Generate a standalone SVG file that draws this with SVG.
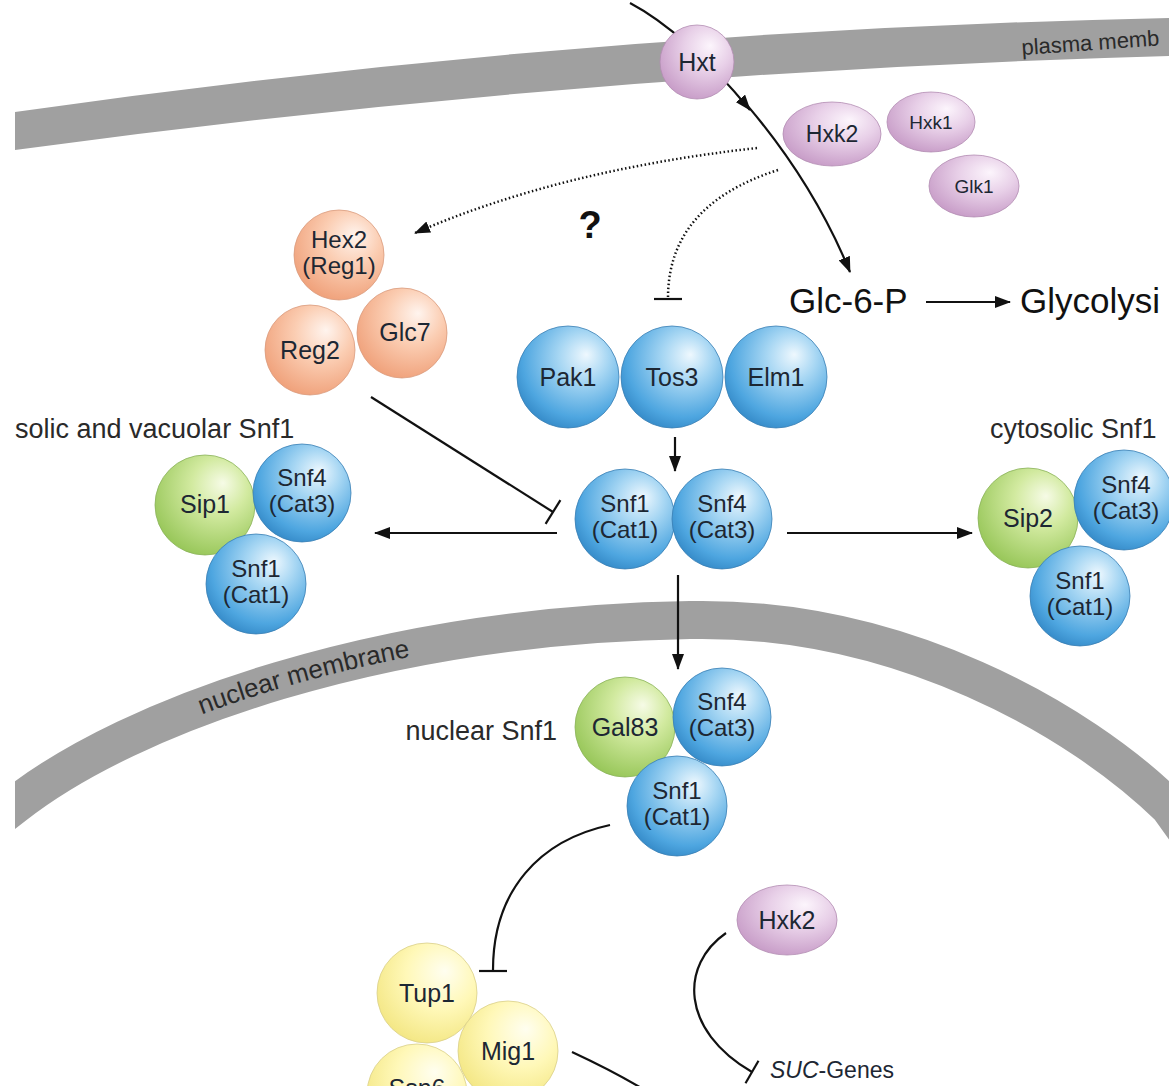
<svg xmlns="http://www.w3.org/2000/svg" width="1169" height="1086" viewBox="0 0 1169 1086">
<defs>
<radialGradient id="gBlue" cx="0.6" cy="0.35" r="0.7" fx="0.68" fy="0.28">
<stop offset="0" stop-color="#eef8fe"/><stop offset="0.35" stop-color="#a6d6f3"/><stop offset="0.8" stop-color="#4ea6e0"/><stop offset="1" stop-color="#3388c6"/>
</radialGradient>
<radialGradient id="gGreen" cx="0.6" cy="0.35" r="0.7" fx="0.68" fy="0.28">
<stop offset="0" stop-color="#f6fbe6"/><stop offset="0.4" stop-color="#d2eaa0"/><stop offset="1" stop-color="#95c556"/>
</radialGradient>
<radialGradient id="gOrange" cx="0.6" cy="0.35" r="0.7" fx="0.68" fy="0.28">
<stop offset="0" stop-color="#fff4ee"/><stop offset="0.45" stop-color="#fbcdb2"/><stop offset="1" stop-color="#ef9f78"/>
</radialGradient>
<radialGradient id="gPurple" cx="0.6" cy="0.35" r="0.7" fx="0.68" fy="0.28">
<stop offset="0" stop-color="#fcf5fc"/><stop offset="0.45" stop-color="#e8d0e8"/><stop offset="1" stop-color="#c69ac6"/>
</radialGradient>
<radialGradient id="gYellow" cx="0.6" cy="0.35" r="0.7" fx="0.68" fy="0.28">
<stop offset="0" stop-color="#fffef0"/><stop offset="0.5" stop-color="#fff8b8"/><stop offset="1" stop-color="#f3e682"/>
</radialGradient>
<marker id="arr" viewBox="0 0 16 12" refX="15" refY="6" markerWidth="16" markerHeight="12" markerUnits="userSpaceOnUse" orient="auto">
<path d="M0,0 L16,6 L0,12 Z" fill="#111"/>
</marker>
<clipPath id="clipL"><rect x="15" y="0" width="1154" height="1086"/></clipPath>
<path id="nucText" d="M15,813 C130,723 380,633 690,628"/>
</defs>
<style>
.mem{fill:none;stroke:#a0a0a0}
.blue{fill:url(#gBlue);stroke:#3a7fb4;stroke-width:0.8}
.green{fill:url(#gGreen);stroke:#8ab35a;stroke-width:0.8}
.orange{fill:url(#gOrange);stroke:#d99a7c;stroke-width:0.8}
.purple{fill:url(#gPurple);stroke:#b38db3;stroke-width:0.8}
.yellow{fill:url(#gYellow);stroke:#d9cf8a;stroke-width:0.8}
.lbl{font-family:"Liberation Sans",Arial,sans-serif;font-size:25px;fill:#1d2733;text-anchor:middle}
.two{font-size:24px}
.sm{font-size:19px}
.grp{font-family:"Liberation Sans",Arial,sans-serif;font-size:27px;fill:#2a2a2a}
.big{font-family:"Liberation Sans",Arial,sans-serif;font-size:35px;fill:#111}
.ln{fill:none;stroke:#111;stroke-width:2.2}
.dot{fill:none;stroke:#111;stroke-width:2.5;stroke-dasharray:1.5 2.5}
</style>
<rect width="1169" height="1086" fill="#fff"/>
<g id="membranes" clip-path="url(#clipL)">
<path id="plasma" d="M15,112 Q590,30 1169,18 L1169,56 Q590,72 15,150 Z" fill="#a0a0a0"/>
<path id="nuclear" class="mem" stroke-width="38" d="M-20,832 L15,805 C130,715 380,625 690,620 C900,616 1080,720 1169,807 L1200,850"/>
</g>
<text class="grp" style="font-size:22px" transform="translate(1022,55) rotate(-4)">plasma memb</text>
<text class="grp" style="font-size:26px"><textPath href="#nucText" startOffset="212">nuclear membrane</textPath></text>

<g id="connectors">
<path class="ln" d="M630,3 C665,21.5 707.5,58.25 750,110" marker-end="url(#arr)"/>
<path class="ln" d="M747.5,105.6 C787.5,153 825,211 850,272" marker-end="url(#arr)"/>
<path class="dot" d="M757,148 Q560,170 415,233" marker-end="url(#arr)"/>
<path class="dot" d="M778,170 C700,195 668,240 668,298"/>
<line class="ln" x1="654" y1="299" x2="682" y2="299"/>
<line class="ln" x1="926" y1="302" x2="1010" y2="302" marker-end="url(#arr)"/>
<line class="ln" x1="371" y1="397" x2="553" y2="512"/>
<line class="ln" x1="545.6" y1="523.9" x2="560.4" y2="500.1"/>
<line class="ln" x1="675" y1="437" x2="675" y2="471" marker-end="url(#arr)"/>
<line class="ln" x1="557" y1="533" x2="375" y2="533" marker-end="url(#arr)"/>
<line class="ln" x1="787" y1="533" x2="972" y2="533" marker-end="url(#arr)"/>
<line class="ln" x1="678" y1="575" x2="678" y2="669" marker-end="url(#arr)"/>
<path class="ln" d="M610,825 C540,840 493,890 493,970"/>
<line class="ln" x1="479" y1="971" x2="507" y2="971"/>
<path class="ln" d="M726,933 C680,965 680,1030 752,1072"/>
<line class="ln" x1="745.5" y1="1083.2" x2="758.5" y2="1060.8"/>
<path class="ln" d="M572,1052 C600,1065 625,1078 648,1092"/>
</g>

<g id="Hxt"><ellipse class="purple" cx="697" cy="62" rx="37" ry="37"/><text class="lbl" x="697" y="71">Hxt</text></g>
<g id="Hxk2top"><ellipse class="purple" cx="832" cy="134" rx="49" ry="32"/><text class="lbl" style="font-size:23px" x="832" y="142">Hxk2</text></g>
<g id="Hxk1"><ellipse class="purple" cx="931" cy="122" rx="44" ry="30"/><text class="lbl sm" x="931" y="129">Hxk1</text></g>
<g id="Glk1"><ellipse class="purple" cx="974" cy="186" rx="45" ry="31"/><text class="lbl sm" x="974" y="193">Glk1</text></g>

<text class="big" x="789" y="313">Glc-6-P</text>
<text class="big" x="1020" y="313">Glycolysi</text>
<text x="590" y="238" style="font-family:'Liberation Sans',Arial,sans-serif;font-size:38px;font-weight:bold;fill:#111" text-anchor="middle">?</text>

<g id="Hex2"><circle class="orange" cx="339" cy="255" r="45"/><text class="lbl two" x="339" y="248">Hex2</text><text class="lbl two" x="339" y="274">(Reg1)</text></g>
<g id="Reg2"><circle class="orange" cx="310" cy="350" r="45"/><text class="lbl" x="310" y="359">Reg2</text></g>
<g id="Glc7"><circle class="orange" cx="402" cy="333" r="45"/><text class="lbl" x="405" y="341">Glc7</text></g>

<g id="Pak1"><circle class="blue" cx="568" cy="377" r="51"/><text class="lbl" x="568" y="386">Pak1</text></g>
<g id="Tos3"><circle class="blue" cx="672" cy="377" r="51"/><text class="lbl" x="672" y="386">Tos3</text></g>
<g id="Elm1"><circle class="blue" cx="776" cy="377" r="51"/><text class="lbl" x="776" y="386">Elm1</text></g>

<g id="Snf1c"><circle class="blue" cx="625" cy="519" r="50"/><text class="lbl two" x="625" y="512">Snf1</text><text class="lbl two" x="625" y="538">(Cat1)</text></g>
<g id="Snf4c"><circle class="blue" cx="722" cy="519" r="50"/><text class="lbl two" x="722" y="512">Snf4</text><text class="lbl two" x="722" y="538">(Cat3)</text></g>

<text class="grp" x="15" y="438">solic and vacuolar Snf1</text>
<g id="Sip1"><circle class="green" cx="205" cy="505" r="50"/><text class="lbl" x="205" y="513">Sip1</text></g>
<g id="Snf4L"><circle class="blue" cx="302" cy="493" r="49"/><text class="lbl two" x="302" y="486">Snf4</text><text class="lbl two" x="302" y="512">(Cat3)</text></g>
<g id="Snf1L"><circle class="blue" cx="256" cy="584" r="50"/><text class="lbl two" x="256" y="577">Snf1</text><text class="lbl two" x="256" y="603">(Cat1)</text></g>

<text class="grp" x="990" y="438">cytosolic Snf1</text>
<g id="Sip2"><circle class="green" cx="1028" cy="518" r="50"/><text class="lbl" x="1028" y="527">Sip2</text></g>
<g id="Snf4R"><circle class="blue" cx="1124" cy="500" r="50"/><text class="lbl two" x="1126" y="493">Snf4</text><text class="lbl two" x="1126" y="519">(Cat3)</text></g>
<g id="Snf1R"><circle class="blue" cx="1080" cy="596" r="50"/><text class="lbl two" x="1080" y="589">Snf1</text><text class="lbl two" x="1080" y="615">(Cat1)</text></g>

<text class="grp" x="557" y="740" text-anchor="end">nuclear Snf1</text>
<g id="Gal83"><circle class="green" cx="625" cy="727" r="50"/><text class="lbl" x="625" y="736">Gal83</text></g>
<g id="Snf4N"><circle class="blue" cx="722" cy="717" r="49"/><text class="lbl two" x="722" y="710">Snf4</text><text class="lbl two" x="722" y="736">(Cat3)</text></g>
<g id="Snf1N"><circle class="blue" cx="677" cy="806" r="50"/><text class="lbl two" x="677" y="799">Snf1</text><text class="lbl two" x="677" y="825">(Cat1)</text></g>

<g id="Hxk2bot"><ellipse class="purple" cx="787" cy="920" rx="50" ry="35"/><text class="lbl" x="787" y="929">Hxk2</text></g>

<g id="Tup1"><circle class="yellow" cx="427" cy="993" r="50"/><text class="lbl" x="427" y="1002">Tup1</text></g>
<g id="Ssn6"><circle class="yellow" cx="417" cy="1094" r="50"/><text class="lbl" x="417" y="1097">Ssn6</text></g>
<g id="Mig1"><circle class="yellow" cx="508" cy="1051" r="50"/><text class="lbl" x="508" y="1060">Mig1</text></g>

<text x="770" y="1078" style="font-family:'Liberation Sans',Arial,sans-serif;font-size:23px;fill:#1d2733"><tspan font-style="italic">SUC</tspan>-Genes</text>
</svg>
